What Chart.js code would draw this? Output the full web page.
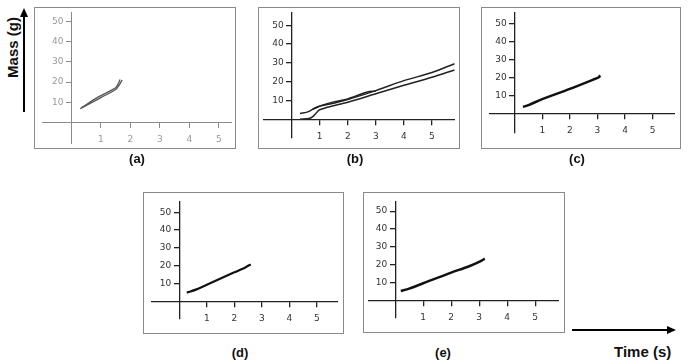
<!DOCTYPE html>
<html>
<head>
<meta charset="utf-8">
<script src="https://cdn.jsdelivr.net/npm/chart.js@4.4.0/dist/chart.umd.min.js"></script>
<style>
  body { margin: 0; width: 689px; height: 364px; background: #fff; position: relative; overflow: hidden; font-family: "Liberation Sans", Arial, sans-serif; }
  .box { position: absolute; border: 1.5px solid #8a8a8a; box-sizing: border-box; }
  canvas { position: absolute; }
  .cap { position: absolute; font-weight: bold; font-size: 13px; color: #111; transform: translate(-50%, -50%); }
  .axtitle { position: absolute; font-weight: bold; font-size: 15px; color: #111; white-space: nowrap; }
</style>
</head>
<body>

<div class="box" style="left:34px;top:7px;width:202px;height:142px"></div>
<div class="box" style="left:258px;top:7px;width:202px;height:142px"></div>
<div class="box" style="left:481px;top:7px;width:200px;height:142px"></div>
<div class="box" style="left:143px;top:192px;width:201px;height:142px"></div>
<div class="box" style="left:363px;top:192px;width:202px;height:141px"></div>

<!-- canvases are 10px taller than the plot area; the extra room holds the x labels -->
<canvas id="pa" width="190" height="141" style="left:42px;top:12px"></canvas>
<canvas id="pb" width="192" height="136" style="left:263px;top:12px"></canvas>
<canvas id="pc" width="186" height="131" style="left:489px;top:12px"></canvas>
<canvas id="pd" width="187" height="128" style="left:151px;top:201px"></canvas>
<canvas id="pe" width="191" height="127" style="left:368px;top:201px"></canvas>

<div class="cap" style="left:137px;top:158px">(a)</div>
<div class="cap" style="left:355px;top:158px">(b)</div>
<div class="cap" style="left:577px;top:158px">(c)</div>
<div class="cap" style="left:240px;top:352px">(d)</div>
<div class="cap" style="left:443px;top:352px">(e)</div>

<div class="axtitle" style="left:-18px;top:39px;transform:rotate(-90deg)">Mass (g)</div>
<div class="axtitle" style="left:614px;top:343px">Time (s)</div>

<svg width="689" height="364" style="position:absolute;left:0;top:0;pointer-events:none">
  <line x1="24" y1="112" x2="24" y2="15" stroke="#000" stroke-width="2"/>
  <polygon points="24,8 20,17 28,17" fill="#000"/>
  <line x1="572" y1="330" x2="668" y2="330" stroke="#000" stroke-width="2"/>
  <polygon points="676,330 667,326 667,334" fill="#000"/>
</svg>

<script>
// tick labels
const xTicks = [1, 2, 3, 4, 5];
const yTicks = [10, 20, 30, 40, 50];

// (a) two close hand-drawn traces
const aTime1 = [0.3, 1.0, 1.5, 1.62, 1.72];
const aMass1 = [6.8, 12.3, 16.3, 18.5, 21];
const aTime2 = [0.33, 0.9, 1.5, 1.6, 1.65];
const aMass2 = [7.2, 12.5, 17.2, 19.5, 21.3];

// (b) three traces
const bTime1 = [0.3, 0.6, 0.9, 1.5, 2, 3, 4, 5, 5.8];
const bMass1 = [3, 4, 6.5, 8.5, 10.5, 15.2, 20.5, 24.8, 29.5];
const bTime2 = [0.75, 1.1, 1.5, 2, 2.7, 3];
const bMass2 = [5.2, 7.5, 9.2, 10.8, 14.5, 15];
const bTime3 = [0.3, 0.65, 0.8, 1, 2, 3, 4, 5, 5.8];
const bMass3 = [0, 0.5, 2, 5, 9, 13.5, 18, 22.3, 26.2];

// (c)
const cTime = [0.3, 0.5, 1, 2, 2.9, 3.05, 3.1];
const cMass = [3.5, 4.5, 7.8, 13.5, 19, 20, 21];

// (d)
const dTime = [0.27, 0.6, 1, 2, 2.4, 2.6];
const dMass = [4.8, 6.5, 9.3, 16.2, 19, 20.7];

// (e)
const eTime = [0.2, 0.5, 1, 2, 2.6, 3, 3.2];
const eMass = [5.2, 6.5, 9.5, 15.5, 18.8, 21.5, 23.3];

function pts(xs, ys) {
  return xs.map((x, i) => ({ x: x, y: ys[i] }));
}

// y labels sit left of the y axis (which crosses at x = 0)
const yLabelPlugin = {
  id: 'yLabels',
  afterDraw(chart) {
    const c = chart.ctx;
    const xs = chart.scales.x, ys = chart.scales.y;
    const o = chart.options.plugins.yLabels;
    const ax = xs.getPixelForValue(0);
    c.save();
    c.font = '9px "DejaVu Sans"';
    c.fillStyle = o.color;
    c.textAlign = 'right';
    c.textBaseline = 'middle';
    yTicks.forEach(v => c.fillText(String(v), ax - 8, ys.getPixelForValue(v)));
    c.restore();
  }
};

function drawPanel(id, cfg) {
  const ctx = document.getElementById(id).getContext('2d');
  new Chart(ctx, {
    type: 'line',
    data: {
      datasets: cfg.series.map(s => ({
        data: pts(s[0], s[1]),
        borderColor: cfg.lineColor,
        borderWidth: cfg.lineWidth,
        pointRadius: 0,
        tension: 0.3,
        fill: false
      }))
    },
    plugins: [yLabelPlugin],
    options: {
      responsive: false,
      animation: false,
      layout: { padding: { left: 0, right: 0, top: 0, bottom: 10 } },
      plugins: { legend: { display: false }, tooltip: { enabled: false }, yLabels: { color: cfg.tickColor } },
      scales: {
        x: {
          type: 'linear',
          position: { y: 0 },
          min: cfg.xr[0], max: cfg.xr[1],
          afterFit: s => { s.height = 0; },
          border: { display: true, color: cfg.axisColor, width: cfg.axisWidth },
          grid: { drawOnChartArea: false, drawTicks: true, tickLength: 5, color: cfg.axisColor, lineWidth: cfg.axisWidth },
          ticks: {
            stepSize: 1, includeBounds: false, autoSkip: false, maxRotation: 0, padding: 7,
            color: cfg.tickColor, font: { family: 'DejaVu Sans', size: 9 },
            callback: v => xTicks.includes(v) ? String(v) : null
          }
        },
        y: {
          type: 'linear',
          position: { x: 0 },
          min: cfg.yr[0], max: cfg.yr[1],
          afterFit: s => { s.width = 0; },
          border: { display: true, color: cfg.axisColor, width: cfg.axisWidth },
          grid: { drawOnChartArea: false, drawTicks: true, tickLength: 5, color: cfg.axisColor, lineWidth: cfg.axisWidth },
          ticks: {
            display: false, stepSize: 10, includeBounds: false, autoSkip: false,
            callback: v => yTicks.includes(v) ? String(v) : null
          }
        }
      }
    }
  });
}

drawPanel('pa', {
  xr: [-1.0, 5.45], yr: [-10.25, 54.75],
  series: [[aTime1, aMass1], [aTime2, aMass2]],
  lineColor: '#555', lineWidth: 1.3, axisColor: '#8a8a8a', axisWidth: 1, tickColor: '#999'
});
drawPanel('pb', {
  xr: [-1.02, 5.82], yr: [-10, 57],
  series: [[bTime1, bMass1], [bTime2, bMass2], [bTime3, bMass3]],
  lineColor: '#222', lineWidth: 1.5, axisColor: '#222', axisWidth: 1.3, tickColor: '#333'
});
drawPanel('pc', {
  xr: [-0.93, 5.81], yr: [-11, 56.2],
  series: [[cTime, cMass]],
  lineColor: '#111', lineWidth: 2.5, axisColor: '#222', axisWidth: 1.3, tickColor: '#333'
});
drawPanel('pd', {
  xr: [-1.03, 5.77], yr: [-10, 56.3],
  series: [[dTime, dMass]],
  lineColor: '#111', lineWidth: 2.2, axisColor: '#222', axisWidth: 1.3, tickColor: '#333'
});
drawPanel('pe', {
  xr: [-0.97, 5.85], yr: [-10, 55.7],
  series: [[eTime, eMass]],
  lineColor: '#111', lineWidth: 2.5, axisColor: '#222', axisWidth: 1.3, tickColor: '#333'
});
</script>
</body>
</html>
